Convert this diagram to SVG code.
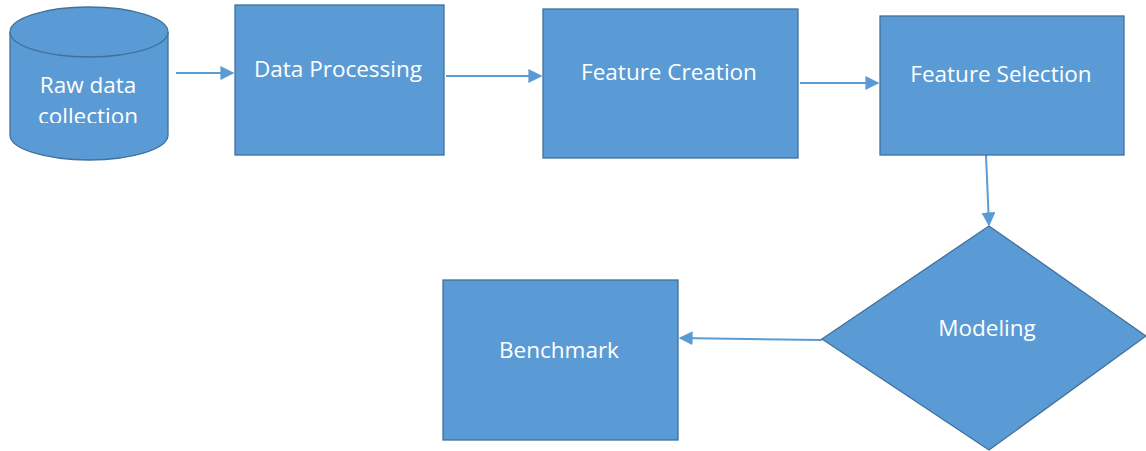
<svg xmlns="http://www.w3.org/2000/svg" width="1146" height="451" viewBox="0 0 1146 451">
<style>
.shape{fill:#5B9BD5;stroke:#41719C;stroke-width:1.3}
.lbl{fill:#fff;font-family:"Open Sans","Liberation Sans",sans-serif;font-size:22.5px;text-anchor:middle}
.conn{stroke:#5B9BD5;stroke-width:2;fill:none;marker-end:url(#ah)}
</style>
<defs>
<marker id="ah" viewBox="0 0 10 10" refX="9" refY="5" markerWidth="7" markerHeight="7" markerUnits="strokeWidth" orient="auto">
<path d="M0,0 L10,5 L0,10 z" fill="#5B9BD5"/>
</marker>
<clipPath id="clipText"><rect x="0" y="0" width="200" height="123"/></clipPath>
</defs>
<rect width="1146" height="451" fill="#fff"/>
<g id="connectors">
<line class="conn" x1="176" y1="73" x2="233" y2="73"/>
<line class="conn" x1="446" y1="76" x2="541" y2="76"/>
<line class="conn" x1="800" y1="83" x2="878" y2="83"/>
<line class="conn" x1="986" y1="155" x2="989" y2="225"/>
<line class="conn" x1="822" y1="340" x2="680" y2="338"/>
</g>
<g id="raw-data">
<path class="shape" d="M10,32 L10,135 A79,25 0 0 0 168,135 L168,32 A79,25 0 0 0 10,32 Z"/>
<path class="shape" d="M10,32 A79,25 0 0 0 168,32"/>
<g clip-path="url(#clipText)">
<text class="lbl" x="88" y="93">Raw data</text>
<text class="lbl" x="88" y="124">collection</text>
</g>
</g>
<g id="data-processing">
<rect class="shape" x="235" y="5" width="209" height="150"/>
<text class="lbl" x="338" y="77">Data Processing</text>
</g>
<g id="feature-creation">
<rect class="shape" x="543" y="9" width="255" height="149"/>
<text class="lbl" x="669" y="80">Feature Creation</text>
</g>
<g id="feature-selection">
<rect class="shape" x="880" y="16" width="244" height="139"/>
<text class="lbl" x="1001" y="82">Feature Selection</text>
</g>
<g id="modeling">
<polygon class="shape" points="989,226 1146,336 989,450 822,339"/>
<text class="lbl" x="987" y="336">Modeling</text>
</g>
<g id="benchmark">
<rect class="shape" x="443" y="280" width="235" height="160"/>
<text class="lbl" x="559" y="358">Benchmark</text>
</g>
</svg>
